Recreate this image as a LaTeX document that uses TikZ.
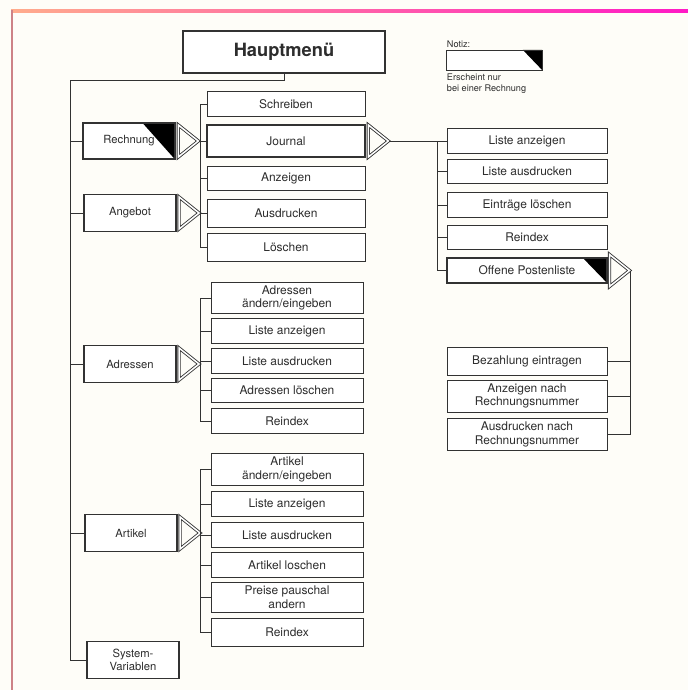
\documentclass[tikz,border=0pt]{standalone}
\usepackage{fontspec}
\setmainfont{TeX Gyre Heros}
\usetikzlibrary{shapes.geometric}
\definecolor{linegray}{RGB}{50,50,50}
\definecolor{textgray}{RGB}{45,45,45}
\definecolor{paper}{RGB}{254,253,248}
\definecolor{framepink}{RGB}{205,130,135}
\tikzset{
  menu/.style={draw=linegray, line width=0.9pt, fill=white, minimum width=2.3cm, minimum height=0.92cm, align=center, inner sep=1pt, text=textgray, font=\fontsize{8}{9.5}\selectfont},
  sub/.style={draw=linegray, line width=0.6pt, fill=white, minimum width=3.8cm, minimum height=0.62cm, align=center, inner sep=1pt, text=textgray, font=\fontsize{8.5}{9.8}\selectfont},
  strong/.style={line width=1.3pt},
  flag/.style={path picture={\fill[black] (path picture bounding box.north east) -- ++(-#1,0) -- (path picture bounding box.south east) -- cycle;}},
  tri/.style={isosceles triangle, isosceles triangle stretches, shape border rotate=0, draw=linegray, double=white, double distance=1.1pt, line width=0.6pt, minimum width=0.8cm, minimum height=0.5cm, inner sep=0pt, anchor=lower side},
  link/.style={draw=linegray, line width=0.7pt},
}
\begin{document}
\begin{tikzpicture}[x=0.025cm, y=-0.025cm]
    \useasboundingbox (0,0) rectangle (688,690);
    \fill[paper] (0,0) rectangle (688,690);
    \shade[left color=orange!55!red!45, right color=magenta!75!red!90] (11,10) rectangle (688,12.5);
    \fill[framepink] (11,10) rectangle (13,690);

    \node[menu, minimum width=5.05cm, minimum height=1.05cm, font=\fontsize{13}{15}\selectfont\bfseries] (hm) at (284,52) {Hauptmenü};
    \node[anchor=south west, inner sep=0.5pt, text=textgray, font=\fontsize{6.5}{8}\selectfont] (notizlbl) at (446,49) {Notiz:};
    \node[sub, minimum width=2.38cm, minimum height=0.5cm, flag=0.48cm] (notiz) at (494.5,60) {};
    \node[anchor=north west, inner sep=0.5pt, align=left, text=textgray, font=\fontsize{6.5}{8}\selectfont] (notiztxt) at (446,73) {Erscheint nur\\bei einer Rechnung};

    \node[menu, strong, flag=0.82cm] (rech) at (129,141) {Rechnung}; \node[menu] (ang) at (130,213) {Angebot};
    \node[menu] (adr) at (130,364) {Adressen}; \node[menu] (art) at (131,533) {Artikel};
    \node[menu] (sys) at (133,660) {System-\\Variablen};

    \node[tri] (rechtri) at ([xshift=0.05cm]rech.east) {}; \node[tri] (angtri) at ([xshift=0.05cm]ang.east) {};
    \node[tri] (adrtri) at ([xshift=0.05cm]adr.east) {}; \node[tri] (arttri) at ([xshift=0.05cm]art.east) {};

    \node[sub, minimum width=3.95cm] (schr) at (286,104) {Schreiben}; \node[sub, strong, minimum width=3.95cm, minimum height=0.8cm] (jou) at (286,141) {Journal};
    \node[sub, minimum width=3.95cm] (anz) at (286,178.5) {Anzeigen}; \node[sub, minimum width=3.95cm, minimum height=0.68cm] (ausd) at (286,213.5) {Ausdrucken};
    \node[sub, minimum width=3.95cm, minimum height=0.68cm] (loe) at (286,247.5) {Löschen};
    \node[tri] (joutri) at ([xshift=0.05cm]jou.east) {};

    \node[sub, minimum width=4cm] (lanz) at (527,141) {Liste anzeigen}; \node[sub, minimum width=4cm] (lausd) at (527,171.5) {Liste ausdrucken};
    \node[sub, minimum width=4cm] (eintr) at (527,205) {Einträge löschen}; \node[sub, minimum width=4cm] (jrei) at (527,237.5) {Reindex};
    \node[sub, strong, minimum width=4cm, flag=0.6cm] (opl) at (527,270.5) {Offene Postenliste};
    \node[tri] (opltri) at ([xshift=0.03cm]opl.east) {};

    \node[sub, minimum width=4cm, minimum height=0.7cm] (bez) at (527,361) {Bezahlung eintragen};
    \node[sub, minimum width=4cm, minimum height=0.8cm] (anzr) at (527,396) {Anzeigen nach\\Rechnungsnummer};
    \node[sub, minimum width=4cm, minimum height=0.82cm] (ausr) at (527,434.5) {Ausdrucken nach\\Rechnungsnummer};

    \node[sub, minimum height=0.76cm] (adrae) at (287,298) {Adressen\\ändern/eingeben}; \node[sub] (adrla) at (287,331) {Liste anzeigen};
    \node[sub] (adrld) at (287,361) {Liste ausdrucken}; \node[sub] (adrloe) at (287,390.5) {Adressen löschen};
    \node[sub] (adrrei) at (287,421) {Reindex};

    \node[sub, minimum height=0.78cm] (artae) at (287,469.5) {Artikel\\ändern/eingeben}; \node[sub] (artla) at (287,504) {Liste anzeigen};
    \node[sub] (artld) at (287,535) {Liste ausdrucken}; \node[sub] (artloe) at (287,565) {Artikel loschen};
    \node[sub, minimum height=0.74cm] (artpr) at (287,597.5) {Preise pauschal\\andern}; \node[sub, minimum height=0.68cm] (artrei) at (287,632.5) {Reindex};

    \coordinate (tr) at (70,80); \coordinate (s1) at (200,0); \coordinate (s2) at (437,0);

    \draw[link] (hm.south) |- (tr) |- (sys.west);
    \foreach \n in {rech,ang,adr,art} \draw[link] (\n.west) -- (\n.west -| tr);

    \draw[link] (schr.west) -- (schr.west -| s1) -- (loe.west -| s1) -- (loe.west);
    \foreach \n in {jou,anz,ausd} \draw[link] (\n.west) -- (\n.west -| s1);
    \draw[link] (rechtri.apex) -- (rechtri.apex -| s1); \draw[link] (angtri.apex) -- (angtri.apex -| s1);

    \draw[link] (joutri.apex) -- (lanz.west);
    \draw[link] (lanz.west -| s2) -- (opl.west -| s2) -- (opl.west);
    \foreach \n in {lausd,eintr,jrei} \draw[link] (\n.west) -- (\n.west -| s2);

    \draw[link] (opltri.apex) |- (ausr.east);
    \foreach \n in {bez,anzr} \draw[link] (\n.east) -- (\n.east -| opltri.apex);

    \draw[link] (adrae.west) -- (adrae.west -| s1) -- (adrrei.west -| s1) -- (adrrei.west);
    \foreach \n in {adrla,adrld,adrloe} \draw[link] (\n.west) -- (\n.west -| s1);
    \draw[link] (adrtri.apex) -- (adrtri.apex -| s1);

    \draw[link] (artae.west) -- (artae.west -| s1) -- (artrei.west -| s1) -- (artrei.west);
    \foreach \n in {artla,artld,artloe,artpr} \draw[link] (\n.west) -- (\n.west -| s1);
    \draw[link] (arttri.apex) -- (arttri.apex -| s1);
\end{tikzpicture}
\end{document}
